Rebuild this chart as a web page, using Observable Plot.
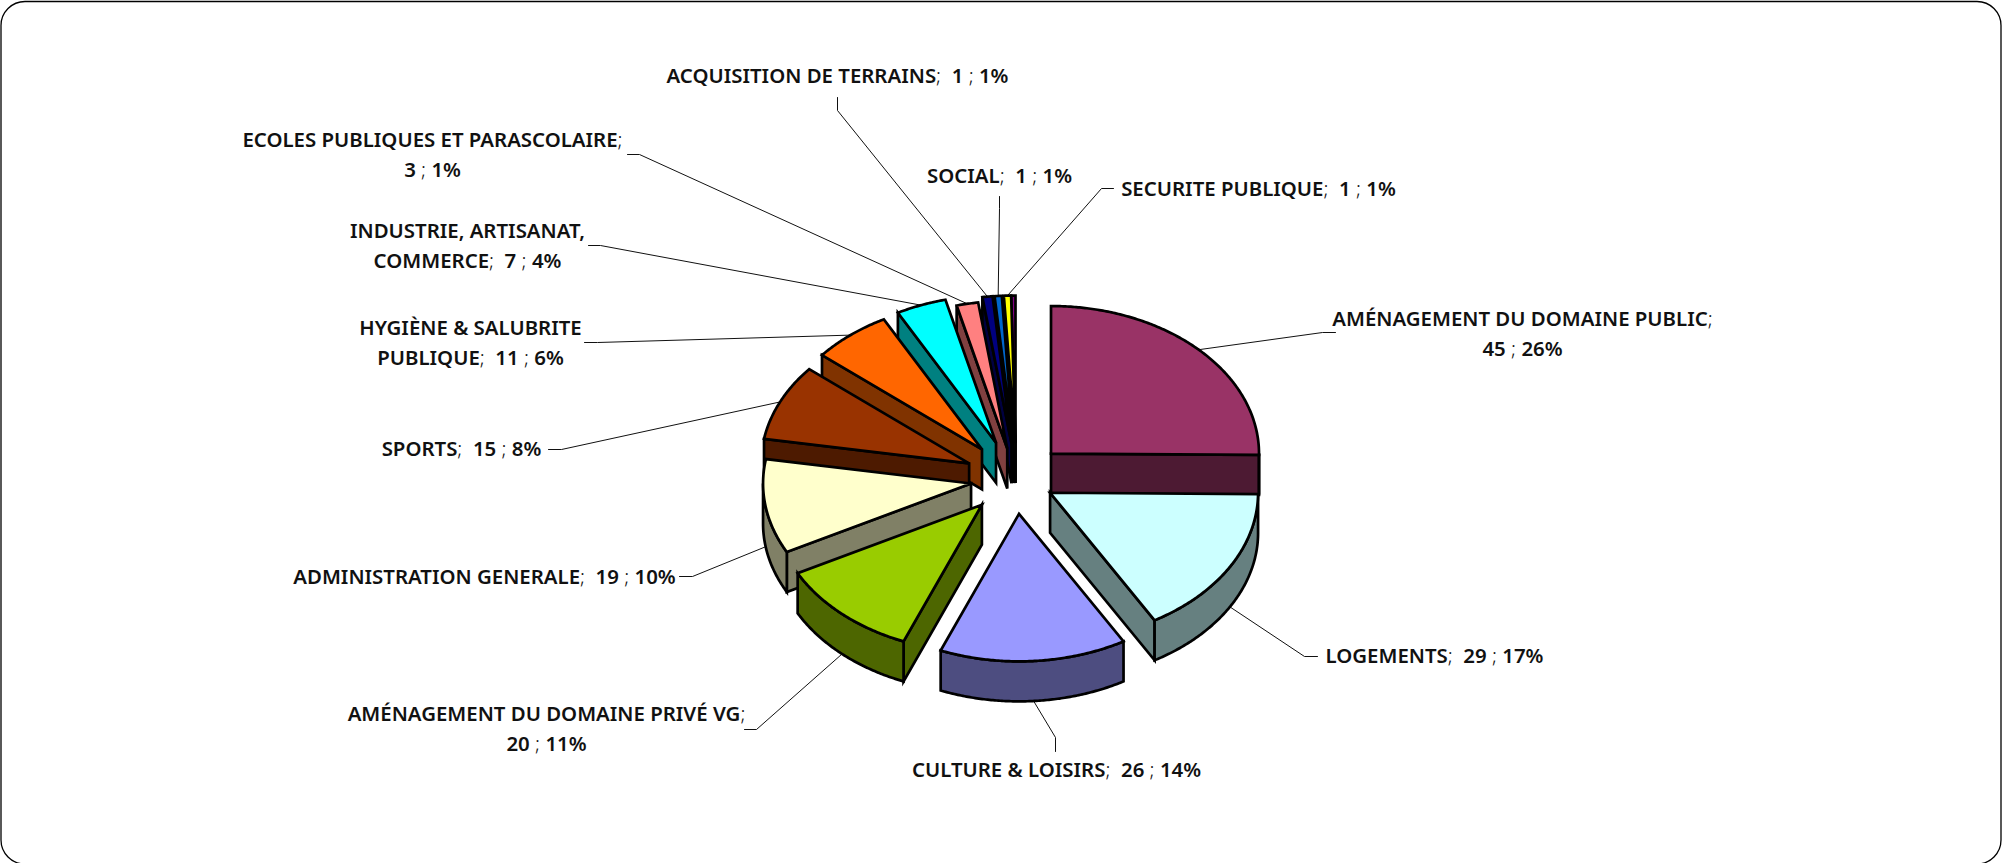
<!DOCTYPE html>
<html>
<head>
<meta charset="utf-8">
<script src="https://cdn.jsdelivr.net/npm/d3@7"></script>
<script src="https://cdn.jsdelivr.net/npm/@observablehq/plot@0.6"></script>
<style>
html,body{margin:0;padding:0;background:#fff;overflow:hidden}
svg{display:block}
</style>
</head>
<body>
<div id="chart"></div>
<script>
// --- Data ---
const categories = ["AMÉNAGEMENT DU DOMAINE PUBLIC","LOGEMENTS","CULTURE & LOISIRS","AMÉNAGEMENT DU DOMAINE PRIVÉ VG","ADMINISTRATION GENERALE","SPORTS","HYGIÈNE & SALUBRITE PUBLIQUE","INDUSTRIE, ARTISANAT, COMMERCE","ECOLES PUBLIQUES ET PARASCOLAIRE","ACQUISITION DE TERRAINS","SOCIAL","SECURITE PUBLIQUE","(sans libellé)"];
const sliceValues = [45,29.5,26,20,18.5,15,11,7,3,1.4,1,1,0.6];
const labelTexts = [
  "AMÉNAGEMENT DU DOMAINE PUBLIC;\n45 ; 26%",
  "LOGEMENTS;  29 ; 17%",
  "CULTURE & LOISIRS;  26 ; 14%",
  "AMÉNAGEMENT DU DOMAINE PRIVÉ VG;\n20 ; 11%",
  "ADMINISTRATION GENERALE;  19 ; 10%",
  "SPORTS;  15 ; 8%",
  "HYGIÈNE & SALUBRITE\nPUBLIQUE;  11 ; 6%",
  "INDUSTRIE, ARTISANAT,\nCOMMERCE;  7 ; 4%",
  "ECOLES PUBLIQUES ET PARASCOLAIRE;\n3 ; 1%",
  "ACQUISITION DE TERRAINS;  1 ; 1%",
  "SOCIAL;  1 ; 1%",
  "SECURITE PUBLIQUE;  1 ; 1%"
];
const topColors  = ["#993366","#CCFFFF","#9999FF","#99CC00","#FFFFCC","#993300","#FF6600","#00FFFF","#FF8080","#000080","#0066CC","#FFFF00","#800080"];
const wallColors = ["#4D1A33","#668080","#4D4D80","#4D6600","#808066","#4D1A00","#803300","#008080","#804040","#000040","#003366","#808000","#400040"];

// --- Layout of the exploded, tilted pie ---
const W = 2002, H = 863;
const cx = 1015, cy = 478, rx = 208, ry = 147.5, depth = 40;
const explode = [50,40,50,50,45,51,53,54,43,50,50,50,50];
// the thin slices move out almost straight up (degrees clockwise from the top)
const explodeDirection = {9: 355.4, 10: 357.7, 11: 360, 12: 360};
const labelPos = [[1522,330.5],[1434,652.5],[1056,766.5],[546,725.5],[484,573.5],[461,445.5],[470,339.5],[467,242.5],[432,151.5],[837,72.5],[999,172.5],[1258,185.5]];
const leaderBends = [
  [[1322,332],[1335,332]],[[1304,656],[1317,656]],[[1055,737],[1055,751]],[[756,729],[744,729]],
  [[692,576],[679,576]],[[561,449],[548,449]],[[597,342],[584,342]],[[600,245],[588,245]],
  [[639,154],[627,154]],[[837,110],[837,97]],[[999,208],[999,196]],[[1101,188],[1113,188]]
];

const arcs = d3.pie().sort(null).value(d => d)(sliceValues);
const deg = 180 / Math.PI;
const slices = arcs.map((a, i) => {
  const mid = (a.startAngle + a.endAngle) / 2;
  const dir = i in explodeDirection ? explodeDirection[i] / deg : mid;
  const ax = cx + explode[i] * Math.sin(dir);
  const ay = cy - explode[i] * (ry / rx) * Math.cos(dir);
  return {i, a0: a.startAngle, a1: a.endAngle, mid, ax, ay};
});
const rim = (s, t, z = 0) => ({x: s.ax + rx * Math.sin(t), y: s.ay - ry * Math.cos(t) + z});
const arcPts = (s, t0, t1, z = 0) => {
  const n = Math.max(2, Math.ceil((t1 - t0) * deg * 2));
  return d3.range(n + 1).map(k => rim(s, t0 + (t1 - t0) * k / n, z));
};
const facePoly = (s, t) => [{x: s.ax, y: s.ay}, rim(s, t), rim(s, t, depth), {x: s.ax, y: s.ay + depth}];

function polygonsOf(s) {
  const out = [];
  const style = {fill: wallColors[s.i]};
  // radial faces turned to the viewer
  if (Math.cos(s.a0 - Math.PI / 2) < 0) out.push({pts: facePoly(s, s.a0), ...style});
  if (Math.cos(s.a1 + Math.PI / 2) < 0) out.push({pts: facePoly(s, s.a1), ...style});
  // front part of the rim
  const t0 = Math.max(s.a0, Math.PI / 2), t1 = Math.min(s.a1, 3 * Math.PI / 2);
  if (t1 > t0) out.push({pts: [...arcPts(s, t0, t1), ...arcPts(s, t0, t1, depth).reverse()], ...style});
  // top
  out.push({pts: [{x: s.ax, y: s.ay}, ...arcPts(s, s.a0, s.a1)], fill: topColors[s.i]});
  return out;
}
// back to front: the top slices first, the front ones last
const paintOrder = [12,11,10,9,8,7,6,5,4,0,1,3,2];
const polygons = paintOrder.flatMap(i => polygonsOf(slices[i]));

const leaders = leaderBends.map((b, i) => {
  const s = slices[i];
  const front = Math.cos(s.mid) < 0;
  return [rim(s, s.mid, front ? depth : 0), {x: b[0][0], y: b[0][1]}, {x: b[1][0], y: b[1][1]}];
});
const labelRows = labelTexts.map((text, i) => ({text, x: labelPos[i][0], y: labelPos[i][1]}));

const svg = Plot.plot({
  width: W, height: H,
  margin: 0,
  x: {domain: [0, W], range: [0, W], axis: null},
  y: {domain: [0, H], range: [0, H], axis: null},
  marks: [
    Plot.rect([{x1: 1, x2: 2001, y1: 1.5, y2: 864}], {x1: "x1", x2: "x2", y1: "y1", y2: "y2", rx: 24, fill: "white", stroke: "black", strokeWidth: 1.3}),
    ...leaders.map(l => Plot.line(l, {x: "x", y: "y", stroke: "#111", strokeWidth: 1, strokeLinejoin: "miter"})),
    ...polygons.map(p => Plot.line(p.pts, {x: "x", y: "y", curve: "linear-closed", fill: p.fill, stroke: "black", strokeWidth: 2.7, strokeLinejoin: "miter", strokeMiterlimit: 4})),
    Plot.text(labelRows, {x: "x", y: "y", text: "text", fontFamily: "'Noto Sans'", fontWeight: 600, fontSize: 20.4, lineHeight: 1.47, fill: "#111", textAnchor: "middle", lineAnchor: "middle"})
  ]
});
// the semicolons of the reference are in a lighter weight
svg.querySelectorAll("text").forEach(t => {
  const walker = document.createTreeWalker(t, NodeFilter.SHOW_TEXT);
  const nodes = [];
  while (walker.nextNode()) nodes.push(walker.currentNode);
  nodes.forEach(n => {
    if (!n.nodeValue.includes(";")) return;
    const frag = document.createDocumentFragment();
    n.nodeValue.split(/(;)/).forEach(part => {
      if (part === ";") {
        const ts = document.createElementNS("http://www.w3.org/2000/svg", "tspan");
        ts.setAttribute("font-weight", "300");
        ts.textContent = ";";
        frag.appendChild(ts);
      } else if (part) frag.appendChild(document.createTextNode(part));
    });
    n.parentNode.replaceChild(frag, n);
  });
});
document.getElementById("chart").appendChild(svg);
</script>
</body>
</html>
